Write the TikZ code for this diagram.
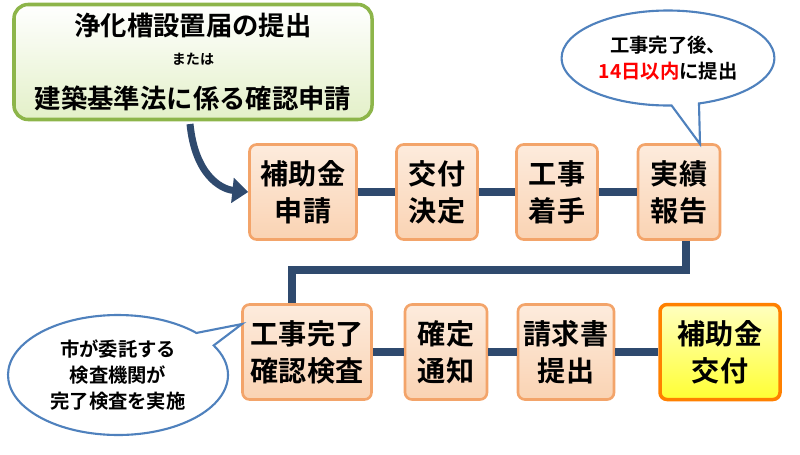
\documentclass[tikz,border=0pt]{standalone}
\usepackage{fontspec}
\newfontfamily\jp{Noto Sans CJK JP}[BoldFont={Noto Sans CJK JP Bold}]
\usetikzlibrary{shapes.callouts,arrows.meta}
\definecolor{linkblue}{HTML}{2F4A6E}
\definecolor{boxedge}{HTML}{F3A46A}
\definecolor{boxfill}{HTML}{FAD3B3}
\definecolor{greenedge}{HTML}{8DB54A}
\definecolor{greenfill}{HTML}{E3F0C8}
\definecolor{bubbleedge}{HTML}{4F81BD}
\tikzset{
  stepbox/.style={draw=boxedge, line width=1.5pt, rounded corners=4pt,
    top color=boxfill!45, bottom color=boxfill, minimum height=1.9cm,
    align=center, font=\jp\bfseries\fontsize{16}{21}\selectfont},
  lastbox/.style={stepbox, draw=orange, line width=2pt, top color=yellow!25, bottom color=yellow!80},
  link/.style={linkblue, line width=5pt},
  bubble/.style={ellipse callout, draw=bubbleedge, line width=1.2pt, fill=white,
    align=center, font=\jp\bfseries\fontsize{11}{15}\selectfont}
}
\begin{document}
\begin{tikzpicture}
\useasboundingbox (0,0) rectangle (16,9.08);
% application
\node[draw=greenedge, line width=2pt, rounded corners=8pt, top color=white, bottom color=greenfill,
  minimum width=7.16cm, minimum height=2.3cm, align=center,
  font=\jp\bfseries\fontsize{15}{16}\selectfont] (apply) at (3.86,7.84)
  {浄化槽設置届の提出\\
   {\fontsize{8}{9}\selectfont または}\\[9pt]
   建築基準法に係る確認申請};
% first row
\node[stepbox, minimum width=2.14cm] (req) at (6.06,5.24) {補助金\\申請};
\node[stepbox, minimum width=1.62cm] (dec) at (8.74,5.24) {交付\\決定};
\node[stepbox, minimum width=1.62cm] (start) at (11.14,5.24) {工事\\着手};
\node[stepbox, minimum width=1.64cm] (rep) at (13.58,5.24) {実績\\報告};
% second row
\node[stepbox, minimum width=2.58cm] (insp) at (6.14,2.04) {工事完了\\確認検査};
\node[stepbox, minimum width=1.64cm] (fix) at (8.92,2.04) {確定\\通知};
\node[stepbox, minimum width=1.66cm] (bill) at (11.32,2.04) {請求書\\提出};
\node[lastbox, minimum width=2.4cm] (pay) at (14.4,2.04) {補助金\\交付};
% connectors
\draw[link] (req) -- (dec);
\draw[link] (dec) -- (start);
\draw[link] (start) -- (rep);
\draw[link] (insp) -- (fix);
\draw[link] (fix) -- (bill);
\draw[link] (bill) -- (pay);
\coordinate (turnA) at (13.72,3.68);
\coordinate (turnB) at (5.84,3.68);
\draw[link, line join=miter] (rep.south -| turnA) -- (turnA) -- (turnB) -- (insp.north -| turnB);
\draw[link, line width=4pt, -{Triangle[length=9pt,width=14pt]}]
  (3.8,6.6) .. controls (3.9,5.6) and (4.4,5.3) .. (req.west);
% notes
\node[bubble, minimum width=3.8cm, minimum height=1.9cm,
  callout absolute pointer={(14.0,6.2)}] (after) at (13.36,7.92)
  {工事完了後、\\{\color{red}14日以内}に提出};
\node[bubble, minimum width=4.4cm, minimum height=2.4cm,
  callout absolute pointer={(4.84,2.6)}] (city) at (2.36,1.58)
  {市が委託する\\検査機関が\\完了検査を実施};
\end{tikzpicture}
\end{document}
